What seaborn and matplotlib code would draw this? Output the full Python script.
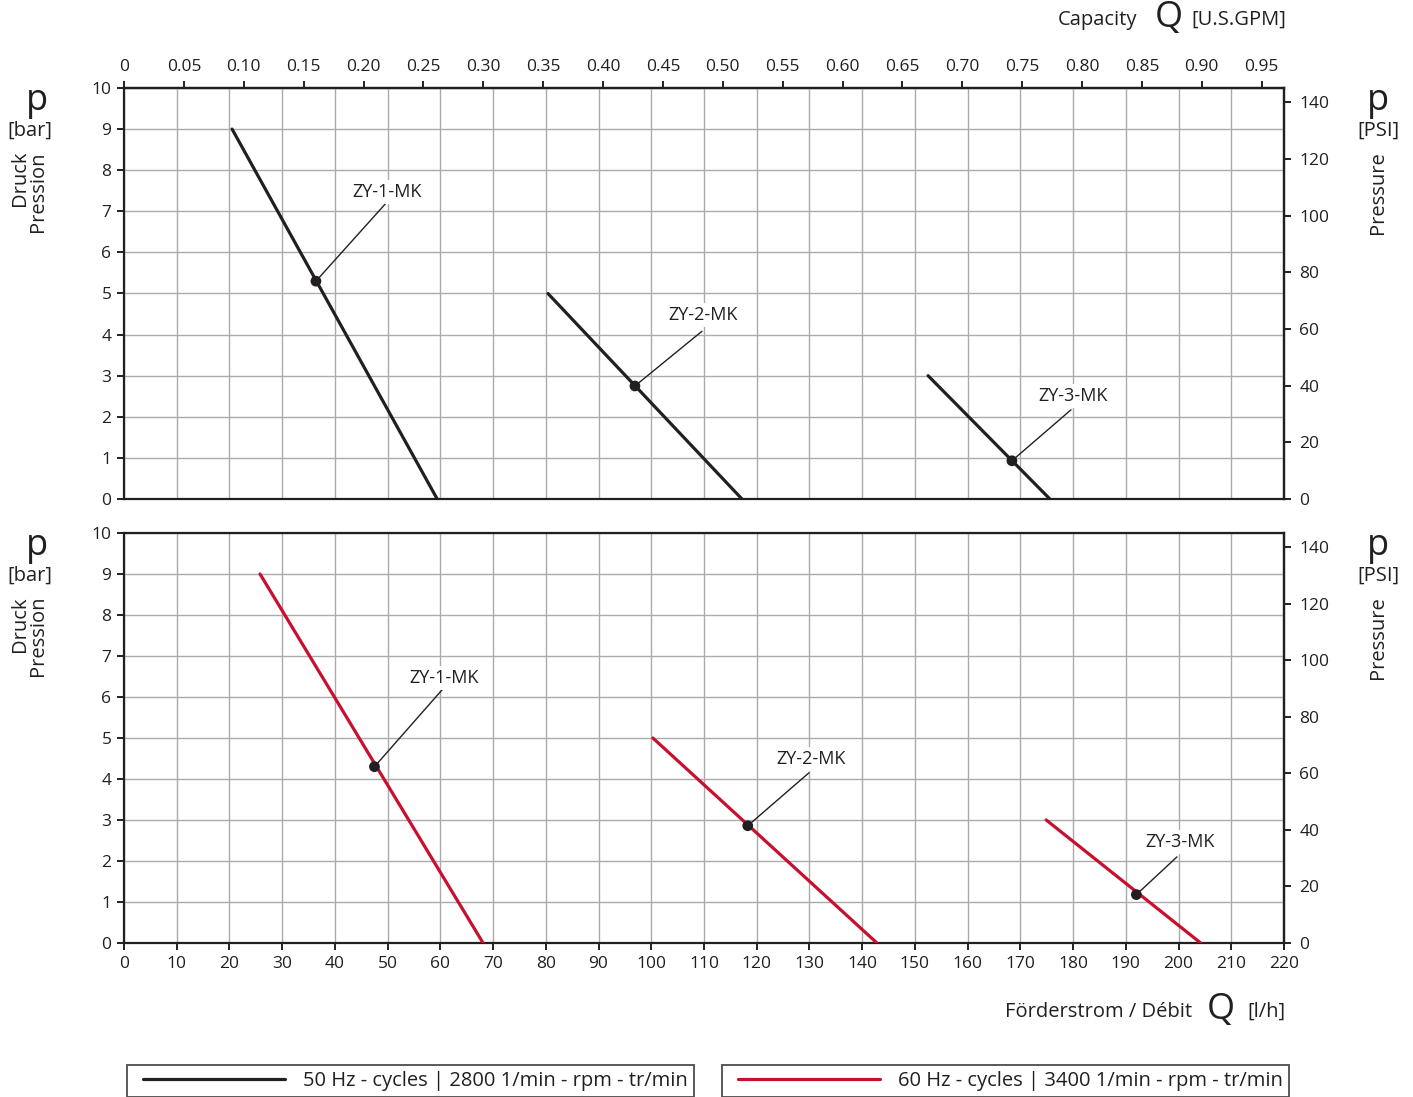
import numpy as np
import pandas as pd
import matplotlib
matplotlib.use("Agg")
import matplotlib.pyplot as plt
from matplotlib.lines import Line2D
from matplotlib.legend_handler import HandlerLine2D
import seaborn as sns

# ---------------- data ----------------
models = ["ZY-1-MK", "ZY-2-MK", "ZY-3-MK"]
# 50 Hz curves (flow l/h, pressure bar): start and end points
q50_start = [20.5, 80.4, 152.5]
q50_end = [59.4, 117.2, 175.6]
p50_start = [9.0, 5.0, 3.0]
p50_end = [0.0, 0.0, 0.0]
q50_mark = [36.4, 96.9, 168.4]
p50_mark = [5.3, 2.75, 0.93]
# 60 Hz curves
q60_start = [25.8, 100.3, 174.9]
q60_end = [68.1, 142.8, 204.2]
p60_start = [9.0, 5.0, 3.0]
p60_end = [0.0, 0.0, 0.0]
q60_mark = [47.5, 118.3, 192.0]
p60_mark = [4.3, 2.86, 1.18]

# label anchor (text centre) and leader end
lab50_q = [49.9, 109.8, 180.0]
lab50_p = [7.47, 4.48, 2.51]
lead50_q = [49.7, 109.6, 179.6]
lead50_p = [7.2, 4.08, 2.17]
lab60_q = [60.7, 130.3, 200.3]
lab60_p = [6.46, 4.49, 2.46]
lead60_q = [60.5, 129.9, 199.7]
lead60_p = [6.2, 4.15, 2.1]

x_ticks = list(range(0, 221, 10))
y_ticks = list(range(0, 11))
gpm_ticks = [0, 0.05, 0.10, 0.15, 0.20, 0.25, 0.30, 0.35, 0.40, 0.45, 0.50,
             0.55, 0.60, 0.65, 0.70, 0.75, 0.80, 0.85, 0.90, 0.95]
psi_ticks = [0, 20, 40, 60, 80, 100, 120, 140]
legend_50 = "50 Hz - cycles | 2800 1/min - rpm - tr/min"
legend_60 = "60 Hz - cycles | 3400 1/min - rpm - tr/min"

LH_TO_GPM = 0.00440287
BAR_TO_PSI = 14.5038

# ---------------- style ----------------
sns.set_theme(style="white")
plt.rcParams["font.family"] = ["Open Sans", "DejaVu Sans"]
DARK = "#231f20"
RED = "#c8102e"
GRID = "#ababab"
FS_TICK = 12.5
FS_LAB = 13
FS_TITLE = 14.5
FS_BIG = 26

W, H = 1413, 1097
fig = plt.figure(figsize=(W / 100, H / 100), dpi=100)
L = 124 / W
R = 1284 / W
ax_top = fig.add_axes([L, 1 - 499 / H, R - L, (499 - 88) / H])
ax_bot = fig.add_axes([L, 1 - 943 / H, R - L, (943 - 533) / H])


def style_axes(ax, show_bottom):
    ax.set_xlim(0, 220)
    ax.set_ylim(0, 10)
    ax.set_xticks(x_ticks)
    ax.set_yticks(y_ticks)
    ax.grid(True, color=GRID, linewidth=1.0)
    ax.set_axisbelow(True)
    for s in ax.spines.values():
        s.set_color(DARK)
        s.set_linewidth(1.6)
        s.set_visible(True)
    ax.tick_params(axis="y", direction="out", length=5, width=1.4, color=DARK,
                   labelsize=FS_TICK, labelcolor=DARK, pad=4, left=True)
    if show_bottom:
        ax.tick_params(axis="x", direction="out", length=5, width=1.4, color=DARK,
                       labelsize=FS_TICK, labelcolor=DARK, pad=4, bottom=True)
    else:
        ax.tick_params(axis="x", length=0, labelbottom=False)
    sec = ax.secondary_yaxis("right", functions=(lambda p: p * BAR_TO_PSI,
                                                  lambda s: s / BAR_TO_PSI))
    sec.set_yticks(psi_ticks)
    sec.tick_params(direction="out", length=5, width=1.4, color=DARK,
                    labelsize=FS_TICK, labelcolor=DARK, pad=6)
    sec.spines["right"].set_color(DARK)
    sec.spines["right"].set_linewidth(1.6)


def draw_panel(ax, qs, qe, ps, pe, qm, pm, lq, lp, eq, ep, color):
    for i, name in enumerate(models):
        df = pd.DataFrame({"q": [qs[i], qe[i]], "p": [ps[i], pe[i]]})
        sns.lineplot(data=df, x="q", y="p", ax=ax, color=color, linewidth=2.3,
                     sort=False, estimator=None, legend=False, zorder=3)
        dm = pd.DataFrame({"q": [qm[i]], "p": [pm[i]]})
        sns.scatterplot(data=dm, x="q", y="p", ax=ax, color=DARK, s=60,
                        edgecolor="none", legend=False, zorder=5)
        ax.annotate("", xy=(qm[i], pm[i]), xytext=(eq[i], ep[i]),
                    arrowprops=dict(arrowstyle="-", color=DARK, lw=1.0,
                                    shrinkA=0, shrinkB=0), zorder=4)
        ax.text(lq[i], lp[i], name, ha="center", va="center", fontsize=FS_LAB,
                color=DARK, zorder=6,
                bbox=dict(boxstyle="square,pad=0.15", fc="white", ec="none"))
    ax.set_xlabel("")
    ax.set_ylabel("")


style_axes(ax_top, False)
style_axes(ax_bot, True)
draw_panel(ax_top, q50_start, q50_end, p50_start, p50_end, q50_mark, p50_mark,
           lab50_q, lab50_p, lead50_q, lead50_p, DARK)
draw_panel(ax_bot, q60_start, q60_end, p60_start, p60_end, q60_mark, p60_mark,
           lab60_q, lab60_p, lead60_q, lead60_p, RED)
for ax in (ax_top, ax_bot):
    ax.set_xlim(0, 220)
    ax.set_ylim(0, 10)

# top GPM axis
top = ax_top.secondary_xaxis("top", functions=(lambda q: q * LH_TO_GPM,
                                               lambda g: g / LH_TO_GPM))
top.set_xticks(gpm_ticks)
top.set_xticklabels(["0"] + [f"{g:.2f}" for g in gpm_ticks[1:]])
top.tick_params(direction="out", length=5, width=1.4, color=DARK,
                labelsize=FS_TICK, labelcolor=DARK, pad=4)
top.spines["top"].set_color(DARK)
top.spines["top"].set_linewidth(1.6)

# ---------------- axis titles ----------------
def fy(py):
    return 1 - py / H


def fx(px):
    return px / W


for dy in (0, 445):
    fig.text(fx(37), fy(101 + dy), "p", fontsize=FS_BIG, ha="center", va="center", color=DARK)
    fig.text(fx(30), fy(131 + dy), "[bar]", fontsize=FS_TITLE, ha="center", va="center", color=DARK)
    fig.text(fx(20), fy(151 + dy), "Druck", fontsize=FS_TITLE, ha="center", va="top",
             rotation=90, color=DARK)
    fig.text(fx(38), fy(151 + dy), "Pression", fontsize=FS_TITLE, ha="center", va="top",
             rotation=90, color=DARK)
    fig.text(fx(1378), fy(101 + dy), "p", fontsize=FS_BIG, ha="center", va="center", color=DARK)
    fig.text(fx(1378), fy(131 + dy), "[PSI]", fontsize=FS_TITLE, ha="center", va="center", color=DARK)
    fig.text(fx(1378), fy(151 + dy), "Pressure", fontsize=FS_TITLE, ha="center", va="top",
             rotation=90, color=DARK)

fig.text(fx(1137), fy(20), "Capacity", fontsize=FS_TITLE, ha="right", va="center", color=DARK)
fig.text(fx(1169), fy(18), "Q", fontsize=FS_BIG, ha="center", va="center", color=DARK)
fig.text(fx(1191), fy(20), "[U.S.GPM]", fontsize=FS_TITLE, ha="left", va="center", color=DARK)

fig.text(fx(1192), fy(1012), "Förderstrom / Débit", fontsize=FS_TITLE, ha="right", va="center", color=DARK)
fig.text(fx(1221), fy(1010), "Q", fontsize=FS_BIG, ha="center", va="center", color=DARK)
fig.text(fx(1247), fy(1012), "[l/h]", fontsize=FS_TITLE, ha="left", va="center", color=DARK)

# ---------------- legends ----------------
for txt, col, left in ((legend_50, DARK, 127), (legend_60, RED, 722)):
    h = Line2D([], [], color=col, linewidth=2.3)
    lg = fig.legend([h], [txt], loc="center left", bbox_to_anchor=(fx(left), fy(1081)),
                    frameon=True, fancybox=False, fontsize=FS_TITLE, handlelength=7.55,
                    handletextpad=0.9, borderpad=0.3, borderaxespad=0,
                    handler_map={Line2D: HandlerLine2D(xpad=0.5)})
    fr = lg.get_frame()
    fr.set_edgecolor(DARK)
    fr.set_linewidth(1.3)
    fr.set_facecolor("white")
    for t in lg.get_texts():
        t.set_color(DARK)

fig.savefig("out.png", dpi=100)
